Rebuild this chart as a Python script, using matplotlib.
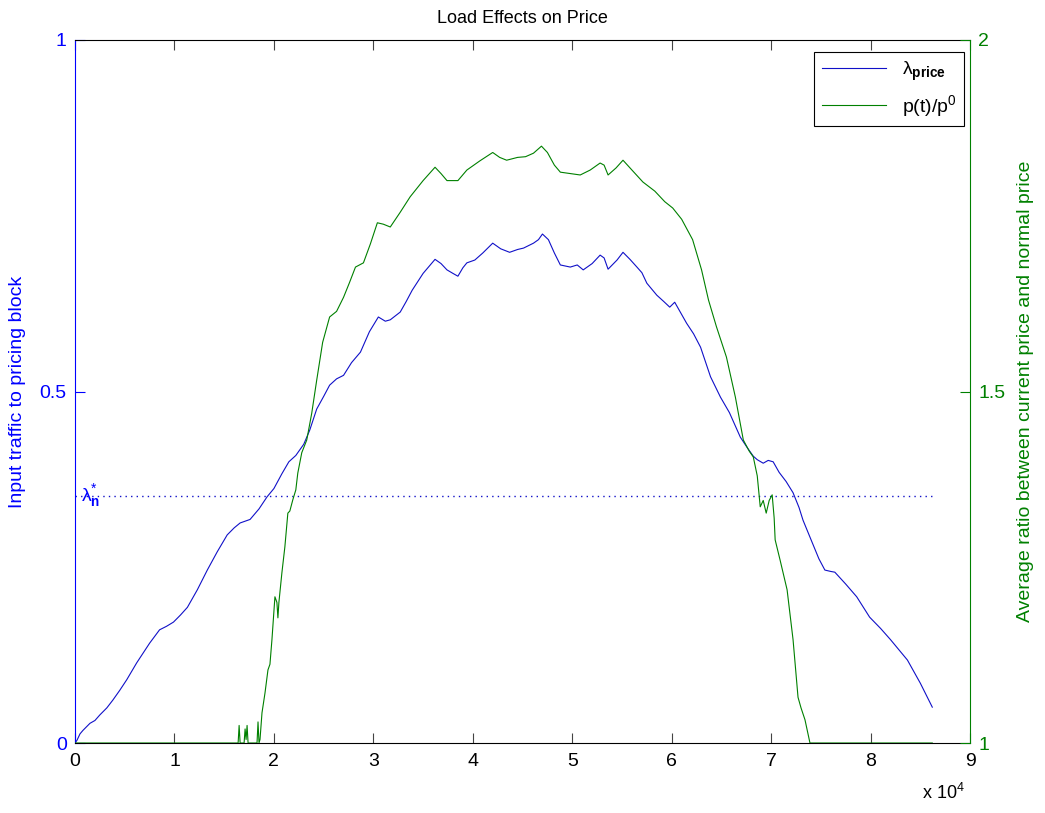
import numpy as np
import matplotlib
matplotlib.use('Agg')
import matplotlib.pyplot as plt

plt.rcParams['font.family'] = ['Liberation Sans', 'DejaVu Sans']
plt.rcParams['mathtext.fontset'] = 'custom'
plt.rcParams['mathtext.rm'] = 'Liberation Sans'
plt.rcParams['mathtext.it'] = 'Liberation Sans:italic'
plt.rcParams['mathtext.bf'] = 'Liberation Sans:bold'

# x values are in units of 1e4 samples
lam_x_e4 = [0.00, 0.02, 0.05, 0.08, 0.15, 0.20, 0.25, 0.32, 0.38, 0.45, 0.52, 0.62, 0.75, 0.85,
            0.92, 0.99, 1.06, 1.13, 1.23, 1.33, 1.43, 1.53, 1.60, 1.66, 1.76, 1.85, 1.93, 2.00,
            2.08, 2.15, 2.22, 2.26, 2.30, 2.36, 2.43, 2.50, 2.56, 2.63, 2.70, 2.78, 2.87, 2.96,
            3.05, 3.12, 3.17, 3.27, 3.33, 3.39, 3.50, 3.62, 3.68, 3.74, 3.80, 3.85, 3.90, 3.94,
            4.02, 4.10, 4.20, 4.28, 4.37, 4.45, 4.51, 4.61, 4.66, 4.70, 4.76, 4.82, 4.88, 4.98,
            5.05, 5.11, 5.20, 5.28, 5.32, 5.36, 5.45, 5.51, 5.58, 5.65, 5.70, 5.75, 5.85, 5.92,
            5.98, 6.03, 6.09, 6.15, 6.22, 6.29, 6.39, 6.49, 6.58, 6.69, 6.76, 6.82, 6.86, 6.92,
            6.97, 7.02, 7.08, 7.15, 7.22, 7.28, 7.32, 7.41, 7.48, 7.54, 7.60, 7.64, 7.75, 7.86,
            7.99, 8.10, 8.20, 8.37, 8.50, 8.62]
lam_price = [0.000, 0.004, 0.013, 0.018, 0.028, 0.032, 0.040, 0.050, 0.061, 0.075, 0.090, 0.114,
             0.142, 0.161, 0.166, 0.172, 0.182, 0.193, 0.218, 0.246, 0.272, 0.296, 0.306, 0.313,
             0.318, 0.333, 0.350, 0.362, 0.383, 0.400, 0.409, 0.417, 0.425, 0.445, 0.475, 0.493,
             0.509, 0.518, 0.523, 0.541, 0.556, 0.585, 0.606, 0.600, 0.602, 0.613, 0.628, 0.644,
             0.668, 0.688, 0.682, 0.673, 0.668, 0.664, 0.676, 0.683, 0.687, 0.697, 0.711, 0.703,
             0.698, 0.702, 0.704, 0.711, 0.716, 0.724, 0.716, 0.697, 0.680, 0.677, 0.680, 0.673,
             0.682, 0.694, 0.690, 0.674, 0.687, 0.698, 0.688, 0.677, 0.669, 0.654, 0.637, 0.628,
             0.620, 0.627, 0.612, 0.597, 0.582, 0.563, 0.521, 0.492, 0.470, 0.435, 0.420, 0.408,
             0.403, 0.398, 0.402, 0.400, 0.385, 0.372, 0.356, 0.335, 0.317, 0.286, 0.262, 0.246,
             0.244, 0.243, 0.226, 0.208, 0.179, 0.163, 0.147, 0.118, 0.085, 0.051]

ratio_x_e4 = [0.00, 1.64, 1.65, 1.66, 1.70, 1.71, 1.72, 1.73, 1.74, 1.83, 1.84, 1.85, 1.86, 1.88,
              1.91, 1.94, 1.96, 1.98, 2.01, 2.03, 2.04, 2.05, 2.08, 2.11, 2.14, 2.16, 2.19, 2.22,
              2.24, 2.28, 2.33, 2.38, 2.43, 2.49, 2.56, 2.63, 2.70, 2.76, 2.82, 2.90, 2.97, 3.04,
              3.10, 3.17, 3.27, 3.37, 3.50, 3.62, 3.68, 3.74, 3.85, 3.94, 4.07, 4.20, 4.27, 4.34,
              4.45, 4.53, 4.61, 4.69, 4.75, 4.82, 4.88, 4.98, 5.08, 5.18, 5.28, 5.32, 5.36, 5.44,
              5.51, 5.60, 5.71, 5.83, 5.93, 6.01, 6.10, 6.21, 6.30, 6.37, 6.45, 6.55, 6.64, 6.72,
              6.78, 6.82, 6.86, 6.89, 6.92, 6.95, 6.98, 7.01, 7.03, 7.04, 7.09, 7.16, 7.22, 7.27,
              7.30, 7.34, 7.39, 8.62]
price_ratio = [1.000, 1.000, 1.025, 1.000, 1.000, 1.020, 1.005, 1.025, 1.000, 1.000, 1.030, 1.000,
               1.005, 1.043, 1.071, 1.104, 1.112, 1.147, 1.208, 1.200, 1.178, 1.200, 1.242, 1.279,
               1.327, 1.330, 1.346, 1.360, 1.384, 1.413, 1.431, 1.469, 1.516, 1.570, 1.606, 1.614,
               1.634, 1.655, 1.677, 1.683, 1.710, 1.740, 1.738, 1.734, 1.755, 1.777, 1.800, 1.819,
               1.810, 1.800, 1.800, 1.815, 1.828, 1.840, 1.833, 1.829, 1.833, 1.834, 1.839, 1.849,
               1.840, 1.822, 1.812, 1.810, 1.808, 1.815, 1.825, 1.822, 1.808, 1.818, 1.829, 1.815,
               1.798, 1.785, 1.770, 1.761, 1.745, 1.716, 1.673, 1.630, 1.592, 1.549, 1.492, 1.431,
               1.415, 1.407, 1.380, 1.336, 1.345, 1.327, 1.345, 1.353, 1.320, 1.289, 1.260, 1.218,
               1.147, 1.065, 1.050, 1.033, 1.000, 1.000]

lam_star = 0.352
lam_star_span_e4 = [0.0, 8.62]

BLUE = '#0000ff'
LINE_BLUE = '#1010c8'
GREEN = '#008000'

fig = plt.figure(figsize=(10.45, 8.13), dpi=100)
ax = fig.add_axes([0.0718, 0.0861, 0.8565, 0.8647])
ax2 = ax.twinx()

x1 = np.array(lam_x_e4) * 1e4
x2 = np.array(ratio_x_e4) * 1e4
xs = np.array(lam_star_span_e4) * 1e4

l1, = ax.plot(x1, lam_price, color=LINE_BLUE, lw=0.8,
              label=r'$\mathrm{\lambda}_{\mathbf{price}}$')
ax.plot(xs, [lam_star, lam_star], color=LINE_BLUE, lw=1.0, ls=(0, (1, 3)))
ax.text(550, lam_star, r'$\mathrm{\lambda}_{\mathbf{n}}^{*}$', color=BLUE, fontsize=14,
        va='center', ha='left')
l2, = ax2.plot(x2, price_ratio, color=GREEN, lw=0.8, label=r'p(t)/p$^0$')

ax.set_xlim(0, 9e4)
ax.set_ylim(0, 1)
ax2.set_ylim(1, 2)
ax.set_xticks(np.arange(0, 10) * 1e4)
ax.set_xticklabels([str(i) for i in range(10)])
ax.set_yticks([0, 0.5, 1])
ax.set_yticklabels(['0', '0.5', '1'])
ax2.set_yticks([1, 1.5, 2])
ax2.set_yticklabels(['1', '1.5', '2'])

ax.tick_params(axis='x', direction='in', length=7, width=0.8, top=True, labelsize=14,
               colors='#444444', labelcolor='black', pad=7)
ax.tick_params(axis='y', direction='in', length=7, width=0.8, colors=BLUE, labelsize=14, pad=6)
ax2.tick_params(axis='y', direction='in', length=7, width=0.8, colors=GREEN, labelsize=14, pad=6)

for s in ['top', 'bottom']:
    ax.spines[s].set_color('black')
    ax.spines[s].set_linewidth(0.8)
ax.spines['left'].set_color(BLUE)
ax.spines['right'].set_visible(False)
for s in ['top', 'bottom', 'left']:
    ax2.spines[s].set_visible(False)
ax2.spines['right'].set_color(GREEN)

ax.set_ylabel('Input traffic to pricing block', color=BLUE, fontsize=14, labelpad=10)
ax2.set_ylabel('Average ratio between current price and normal price', color=GREEN,
               fontsize=14, labelpad=8)
ax.set_title('Load Effects on Price', fontsize=13, pad=12)
fig.text(0.882, 0.012, r'x 10$^4$', fontsize=13, ha='left', va='bottom')

leg = ax2.legend(handles=[l1, l2], loc='upper right', bbox_to_anchor=(0.9933, 0.983),
                 borderaxespad=0, fancybox=False, edgecolor='black', fontsize=14,
                 handlelength=3.3, framealpha=1)
leg.get_frame().set_linewidth(0.8)

fig.savefig('out.png', dpi=100)
